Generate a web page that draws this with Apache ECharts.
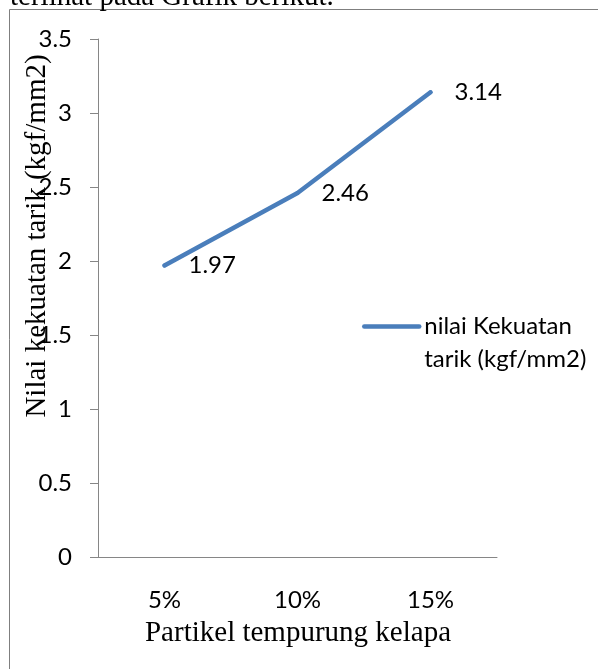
<!DOCTYPE html>
<html>
<head>
<meta charset="utf-8">
<script src="https://cdn.jsdelivr.net/npm/echarts@6/dist/echarts.min.js"></script>
<style>
  html, body { margin: 0; padding: 0; background: #fff; }
  #chart { width: 598px; height: 669px; }
</style>
</head>
<body>
<div id="chart"></div>
<script>
const categories = ['5%', '10%', '15%'];
const tensileValues = [1.97, 2.46, 3.14];
const seriesName = 'nilai Kekuatan tarik (kgf/mm2)';
const legendLines = ['nilai Kekuatan', 'tarik (kgf/mm2)'];
const yTitle = 'Nilai kekuatan tarik (kgf/mm2)';
const xTitle = 'Partikel tempurung kelapa';
const captionText = 'terlihat pada Grafik berikut.';

const sansFont = 'Lato';
const serifFont = '"Liberation Serif", "Times New Roman", serif';
const lineColor = '#4A7EBB';
const axisColor = '#868686';

const chart = echarts.init(document.getElementById('chart'), null, { renderer: 'canvas' });

chart.setOption({
  backgroundColor: '#ffffff',
  animation: false,
  grid: { left: 98, right: 101, top: 39, bottom: 112, containLabel: false },
  xAxis: {
    type: 'category',
    data: categories,
    boundaryGap: true,
    axisLine: { show: true, lineStyle: { color: axisColor, width: 1 } },
    axisTick: { show: false },
    axisLabel: { color: '#000', fontFamily: sansFont, fontSize: 24, margin: 31 },
    splitLine: { show: false }
  },
  yAxis: {
    type: 'value',
    min: 0,
    max: 3.5,
    interval: 0.5,
    axisLine: { show: true, lineStyle: { color: axisColor, width: 1 } },
    axisTick: { show: true, inside: false, length: 8, lineStyle: { color: axisColor, width: 1 } },
    axisLabel: { color: '#000', fontFamily: sansFont, fontSize: 24, margin: 26 },
    splitLine: { show: false }
  },
  legend: {
    show: true,
    orient: 'vertical',
    left: 362,
    top: 277,
    padding: 0,
    itemWidth: 55,
    itemHeight: 10,
    data: [seriesName],
    formatter: function () { return '\n' + legendLines.join('\n'); },
    textStyle: { color: '#000', fontFamily: sansFont, fontSize: 24, lineHeight: 33 },
    itemStyle: { opacity: 0 },
    lineStyle: { width: 4.5, cap: 'round', color: lineColor }
  },
  series: [{
    name: seriesName,
    type: 'line',
    data: tensileValues,
    symbol: 'circle',
    symbolSize: 4,
    showSymbol: true,
    lineStyle: { color: lineColor, width: 4.5, cap: 'round', join: 'round' },
    itemStyle: { color: lineColor },
    label: {
      show: true,
      position: 'right',
      distance: 22,
      color: '#000',
      fontFamily: sansFont,
      fontSize: 24
    },
    emphasis: { disabled: true }
  }],
  graphic: [
    {
      type: 'rect',
      shape: { x: 9.5, y: 9.5, width: 700, height: 800 },
      style: { fill: 'none', stroke: '#7f7f7f', lineWidth: 1 },
      silent: true,
      z: -10
    },
    {
      type: 'text',
      x: 10, y: -3,
      style: { text: captionText, font: '29px ' + serifFont, fill: '#000', align: 'left', verticalAlign: 'middle' },
      silent: true
    },
    {
      type: 'text',
      x: 37, y: 236,
      rotation: Math.PI / 2,
      style: { text: yTitle, font: '29px ' + serifFont, fill: '#000', align: 'center', verticalAlign: 'middle' },
      silent: true
    },
    {
      type: 'text',
      x: 298, y: 633,
      style: { text: xTitle, font: '29px ' + serifFont, fill: '#000', align: 'center', verticalAlign: 'middle' },
      silent: true
    }
  ]
});
</script>
</body>
</html>
